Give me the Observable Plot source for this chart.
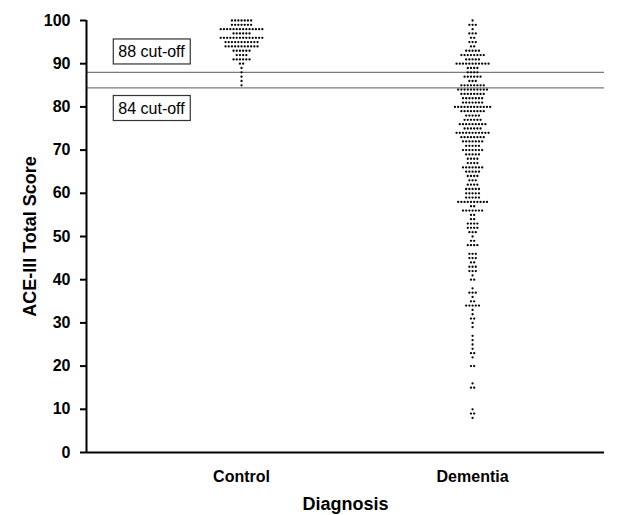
<!DOCTYPE html>
<html><head><meta charset="utf-8">
<script src="https://cdn.jsdelivr.net/npm/d3@7"></script>
<script src="https://cdn.jsdelivr.net/npm/@observablehq/plot@0.6"></script>
<style>body{margin:0;background:#fff}</style>
</head><body><div id="chart"></div>
<script>
// ---- data ----
const groups = ["Control", "Dementia"];
const controlScores = [100,99,98,97,96,95,94,93,92,91,90,89,88,87,86,85];
const controlCounts = [7,7,14,6,14,11,11,6,4,6,2,1,1,1,1,1];
const dementiaScores = [100,99,98,97,96,95,94,93,92,91,90,89,88,87,86,85,84,83,82,81,
  80,79,78,77,76,75,74,73,72,71,70,69,68,67,66,65,64,63,62,61,
  60,59,58,57,56,55,54,53,52,51,50,49,48,47,46,45,44,43,42,41,
  40,39,38,37,36,35,34,33,32,31,30,29,28,27,26,25,24,23,22,21,
  20,19,18,17,16,15,14,13,12,11,10,9,8];
const dementiaCounts = [1,3,1,3,2,3,2,5,8,5,11,4,4,6,3,8,10,8,7,7,
  12,8,5,6,9,6,11,8,7,5,7,5,4,4,7,5,4,3,4,5,
  5,5,10,2,7,2,2,4,4,3,1,2,4,0,3,3,2,3,3,1,
  2,0,1,3,1,2,5,1,1,2,1,1,0,1,1,1,1,2,1,0,
  2,0,0,0,1,2,0,0,0,0,1,2,1];
const cutoffs = [88, 84.4];
const cutoffLabels = ["88 cut-off", "84 cut-off"];
const yTicks = [0,10,20,30,40,50,60,70,80,90,100];

// ---- layout ----
const W = 626, H = 515, ml = 86, mr = 22, mt = 20, mb = 63;
const xDomain = [-0.671, 1.571];
const pxPerUnit = (W - ml - mr) / (xDomain[1] - xDomain[0]);
const dotGap = 3.2 / pxPerUnit;

const dots = [];
function addGroup(gi, scores, counts) {
  scores.forEach((s, i) => {
    const n = counts[i];
    for (let j = 0; j < n; j++) dots.push({x: gi + (j - (n - 1) / 2) * dotGap, y: s});
  });
}
addGroup(0, controlScores, controlCounts);
addGroup(1, dementiaScores, dementiaCounts);

const plot = Plot.plot({
  width: W, height: H,
  marginLeft: ml, marginRight: mr, marginTop: mt, marginBottom: mb,
  style: {fontFamily: "'Liberation Sans', Arial, sans-serif", fontSize: "16px", fontWeight: "bold", color: "#000", background: "#fff", overflow: "visible"},
  x: {domain: xDomain, axis: null},
  y: {domain: [0, 100], axis: null},
  marks: [
    Plot.ruleY(cutoffs, {stroke: "#7a7a7a", strokeWidth: 1.2}),
    Plot.dot(dots, {x: "x", y: "y", r: 1.15, fill: "#000", stroke: null}),
    Plot.axisY({ticks: yTicks, tickSize: 6, tickPadding: 10, strokeWidth: 2, label: null, fontSize: 16, fontWeight: "bold"}),
    Plot.axisX({ticks: [0, 1], tickFormat: i => groups[i], tickSize: 0, tickPadding: 18, label: null, fontSize: 16, fontWeight: "bold"}),
    Plot.ruleX([xDomain[0]], {y1: 0, y2: 100, strokeWidth: 2, stroke: "#000"}),
    Plot.ruleY([0], {strokeWidth: 2, stroke: "#000"}),
    Plot.text([cutoffLabels[0]], {x: xDomain[0], y: [cutoffs[0]], text: d => d, dx: 65, dy: -20.5, fontSize: 16, fontWeight: "normal", fill: "#000"}),
    Plot.text([cutoffLabels[1]], {x: xDomain[0], y: [cutoffs[1]], text: d => d, dx: 65, dy: 20.5, fontSize: 16, fontWeight: "normal", fill: "#000"}),
    Plot.text(["ACE-III Total Score"], {frameAnchor: "left", dx: -56, rotate: -90, textAnchor: "middle", lineAnchor: "middle", fontSize: 18, fontWeight: "bold"}),
    Plot.text(["Diagnosis"], {frameAnchor: "bottom", dy: 52, textAnchor: "middle", lineAnchor: "middle", fontSize: 18, fontWeight: "bold"})
  ]
});
document.getElementById("chart").appendChild(plot);

// boxes around cut-off labels
d3.select(plot).selectAll("text").each(function() {
  if (cutoffLabels.includes(this.textContent)) {
    const bb = this.getBBox();
    const rect = document.createElementNS("http://www.w3.org/2000/svg", "rect");
    rect.setAttribute("x", bb.x - 5);
    rect.setAttribute("y", bb.y - 4);
    rect.setAttribute("width", bb.width + 10);
    rect.setAttribute("height", bb.height + 8);
    rect.setAttribute("fill", "#fff");
    rect.setAttribute("stroke", "#333");
    rect.setAttribute("stroke-width", 1.2);
    const tr = this.getAttribute("transform");
    if (tr) rect.setAttribute("transform", tr);
    this.parentNode.insertBefore(rect, this);
  }
});
</script>
</body></html>
